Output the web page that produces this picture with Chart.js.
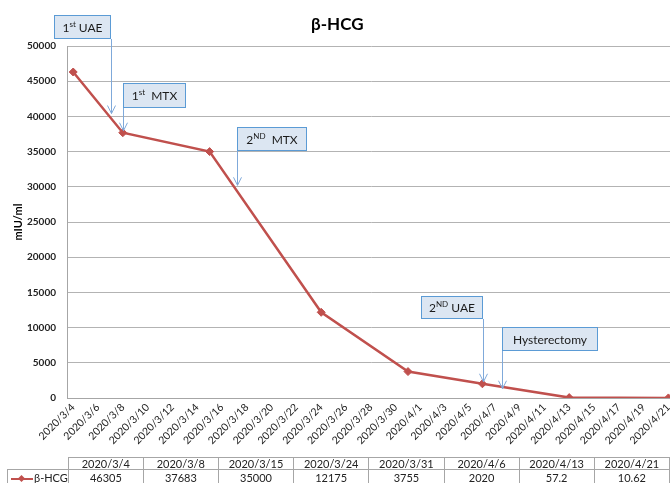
<!DOCTYPE html>
<html><head><meta charset="utf-8">
<script src="https://cdn.jsdelivr.net/npm/chart.js@4.4.0/dist/chart.umd.min.js"></script>
<style>
html,body{margin:0;padding:0;background:#fff;overflow:hidden;width:670px;height:483px}
#wrap{position:absolute;left:0;top:0;width:690px;height:483px}
#tbl{position:absolute;border-collapse:collapse;table-layout:fixed;font-family:Lato,"Open Sans",sans-serif;font-size:11px;color:#222}
#tbl td{padding:0;text-align:center;white-space:nowrap;overflow:hidden}
#tbl tr.h td{height:11px;line-height:11px}
#tbl tr.d td{height:15px;line-height:15px}
.mk{display:inline-block;position:relative;width:22px;height:2px;background:#c0504d;vertical-align:middle;margin-right:1px}
.mk i{position:absolute;left:8px;top:-2px;width:5px;height:5px;background:#c0504d;transform:rotate(45deg)}
</style></head><body>
<div id="wrap"><canvas id="c" width="690" height="483"></canvas></div>
<table id="tbl"></table>
<script>
// ---- data ----
const seriesName = 'β-HCG';
const measureDates = ['2020/3/4','2020/3/8','2020/3/15','2020/3/24','2020/3/31','2020/4/6','2020/4/13','2020/4/21'];
const hcgValues = [46305, 37683, 35000, 12175, 3755, 2020, 57.2, 10.62];
const tickLabels = ['2020/3/4','2020/3/6','2020/3/8','2020/3/10','2020/3/12','2020/3/14','2020/3/16','2020/3/18','2020/3/20','2020/3/22','2020/3/24','2020/3/26','2020/3/28','2020/3/30','2020/4/1','2020/4/3','2020/4/5','2020/4/7','2020/4/9','2020/4/11','2020/4/13','2020/4/15','2020/4/17','2020/4/19','2020/4/21'];
const yTicks = [0,5000,10000,15000,20000,25000,30000,35000,40000,45000,50000];
const yTitle = 'mIU/ml';
const chartTitle = 'β-HCG';
const eventMain = ['1','1','2','2','Hysterectomy'];
const eventSup  = ['st','st','ND','ND',''];
const eventRest = [' UAE','  MTX','  MTX',' UAE',''];
const eventDates = ['2020/3/7','2020/3/8','2020/3/17','2020/4/6','2020/4/8'];

// ---- layout / style (not data) ----
const FONT = 'Lato, "Open Sans", sans-serif';
const calloutLayout = [
  {box:[54,15,57,24], side:'right', dy:-4},
  {box:[123,83,63,25], side:'left', dy:-2},
  {box:[237,127,70,24], side:'left', dy:-2},
  {box:[421,296,62,23], side:'right', dy:-2},
  {box:[502,327,96,24], side:'left', dy:1}
];

function day(s){const p=s.split('/').map(Number);const b=tickLabels[0].split('/').map(Number);
  return Math.round((Date.UTC(p[0],p[1]-1,p[2])-Date.UTC(b[0],b[1]-1,b[2]))/864e5);}
const tickMap = {}; tickLabels.forEach(t=>tickMap[day(t)]=t);

function lineValueAt(x){
  const xs=measureDates.map(day);
  for(let i=0;i<xs.length-1;i++){ if(x>=xs[i]&&x<=xs[i+1]){const t=(x-xs[i])/(xs[i+1]-xs[i]);return hcgValues[i]+t*(hcgValues[i+1]-hcgValues[i]);} }
  return hcgValues[hcgValues.length-1];
}

const calloutPlugin = {
  id:'callouts',
  afterDatasetsDraw(chart){
    const ctx=chart.ctx, ys=chart.scales.y;
    ctx.save();
    calloutLayout.forEach((c,i)=>{
      const [bx,by,bw,bh]=c.box;
      const d=day(eventDates[i]);
      const ax=(c.side==='right'?bx+bw:bx);
      const tipY=ys.getPixelForValue(lineValueAt(d))+c.dy;
      ctx.strokeStyle='#7fa9da'; ctx.lineWidth=1;
      ctx.beginPath(); ctx.moveTo(ax+0.5,by+bh); ctx.lineTo(ax+0.5,tipY); ctx.stroke();
      ctx.beginPath(); ctx.moveTo(ax+0.5-4,tipY-8); ctx.lineTo(ax+0.5,tipY); ctx.lineTo(ax+0.5+4,tipY-8); ctx.stroke();
      ctx.fillStyle='#dce6f2'; ctx.fillRect(bx,by,bw,bh);
      ctx.strokeStyle='#5b9bd5'; ctx.strokeRect(bx+0.5,by+0.5,bw-1,bh-1);
      const mainF='12px '+FONT, supF='8px '+FONT;
      ctx.font=mainF; const w1=ctx.measureText(eventMain[i]).width, w3=ctx.measureText(eventRest[i]).width;
      ctx.font=supF; const w2=ctx.measureText(eventSup[i]).width;
      let x=bx+(bw-(w1+w2+w3))/2; const cy=by+bh/2+1;
      ctx.fillStyle='#1a1a1a'; ctx.textBaseline='middle'; ctx.textAlign='left';
      ctx.font=mainF; ctx.fillText(eventMain[i],x,cy); x+=w1;
      ctx.font=supF; ctx.fillText(eventSup[i],x,cy-4); x+=w2;
      ctx.font=mainF; ctx.fillText(eventRest[i],x,cy);
    });
    ctx.restore();
  }
};

const chart = new Chart(document.getElementById('c'),{
  type:'line',
  data:{datasets:[{label:seriesName,
    data:measureDates.map((d,i)=>({x:day(d),y:hcgValues[i]})),
    borderColor:'#c0504d',backgroundColor:'#c0504d',borderWidth:2.5,
    pointStyle:'rectRot',pointRadius:4,pointHoverRadius:4,pointBorderWidth:1,tension:0}]},
  options:{
    responsive:false,animation:false,devicePixelRatio:1,
    layout:{padding:{left:0,right:15.4,top:0,bottom:0}},
    plugins:{legend:{display:false},tooltip:{enabled:false},
      title:{display:true,text:chartTitle,color:'#000',font:{family:FONT,size:17,weight:'bold'},padding:{top:14,bottom:11.6}}},
    scales:{
      x:{type:'linear',min:day(tickLabels[0])-0.5,max:day(tickLabels[tickLabels.length-1])+0.5,
        afterBuildTicks:s=>{s.ticks=tickLabels.map(t=>({value:day(t)}));},
        ticks:{callback:v=>tickMap[v]||'',minRotation:45,maxRotation:45,autoSkip:false,
          font:{family:FONT,size:10.5},color:'#222',padding:3},
        grid:{display:false,drawTicks:false},border:{display:true,color:'#a6a6a6',width:1},
        afterFit:s=>{s.height=85;}},
      y:{min:0,max:50000,
        afterBuildTicks:s=>{s.ticks=yTicks.map(v=>({value:v}));},
        ticks:{callback:v=>String(v),font:{family:FONT,size:10,weight:'bold'},color:'#222',padding:11},
        grid:{color:'#b3b3b3',drawTicks:false},border:{display:true,color:'#a6a6a6'},
        title:{display:true,text:yTitle,color:'#000',font:{family:FONT,size:11,weight:'bold'},padding:{top:11.4,bottom:0}},
        afterFit:s=>{s.width=67;}}
    }
  },
  plugins:[calloutPlugin]
});

// ---- data table below the chart ----
(function(){
  const ca=chart.chartArea, n=measureDates.length, cw=(ca.right-ca.left)/n;
  const t=document.getElementById('tbl');
  t.style.left='7px'; t.style.top='457px';
  const B='1px solid #a6a6a6';
  let cols='<colgroup><col style="width:'+(ca.left-7)+'px">'+measureDates.map(()=>'<col style="width:'+cw+'px">').join('')+'</colgroup>';
  let h='<tr class="h"><td></td>'+measureDates.map(d=>'<td style="border:'+B+'">'+d+'</td>').join('')+'</tr>';
  let r='<tr class="d"><td style="border:'+B+';text-align:left;padding-left:3px"><span class="mk"><i></i></span>'+seriesName+'</td>'+hcgValues.map(v=>'<td style="border:'+B+'">'+v+'</td>').join('')+'</tr>';
  t.innerHTML=cols+h+r;
})();
</script>
</body></html>
